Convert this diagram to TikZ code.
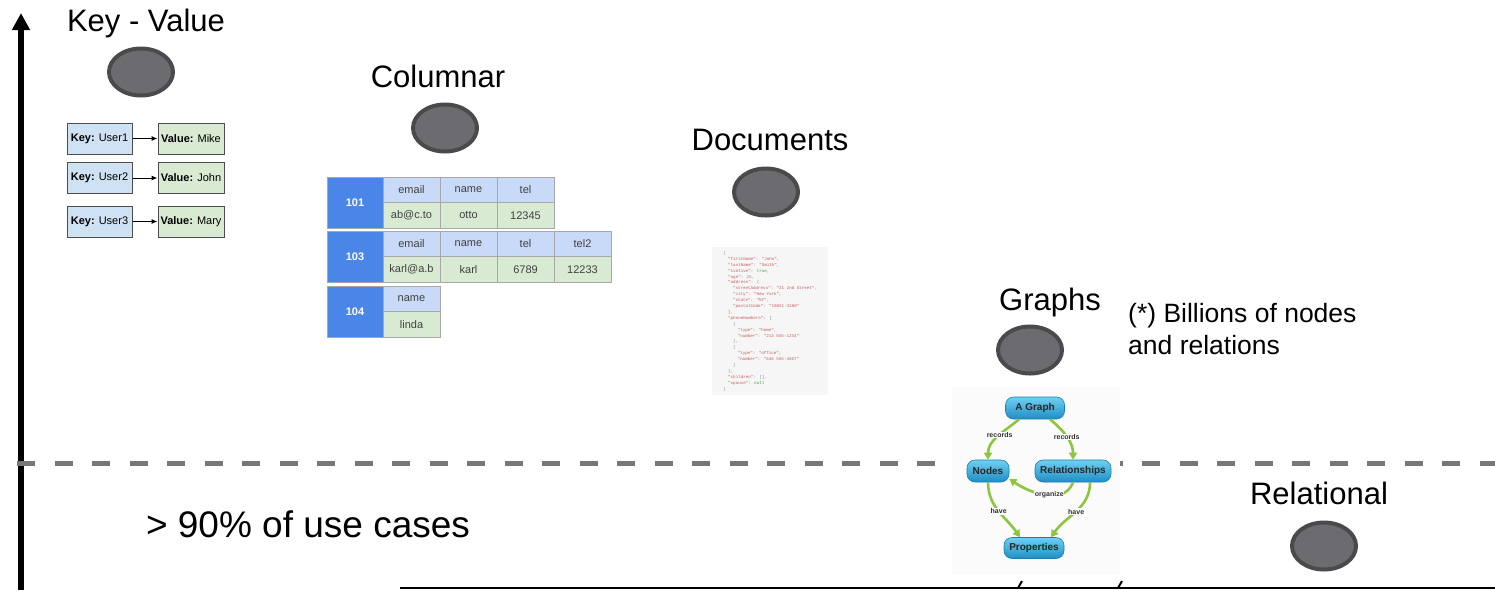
\documentclass[tikz,border=0pt]{standalone}
\usepackage{fontspec}
\setmainfont{Liberation Sans}
\newfontfamily\jsonfont{Liberation Mono}
\usetikzlibrary{positioning, shapes.geometric, arrows.meta}

\definecolor{dbgray}{HTML}{6C6C70}
\definecolor{dbedge}{HTML}{4A4A4C}
\definecolor{keyblue}{HTML}{CFE2F3}
\definecolor{valgreen}{HTML}{D9EAD3}
\definecolor{idblue}{HTML}{4A86E8}
\definecolor{headblue}{HTML}{C9DAF8}
\definecolor{cellline}{HTML}{A8A8A8}
\definecolor{jsonbg}{HTML}{F6F6F6}
\definecolor{jsonred}{HTML}{C85A5A}
\definecolor{jsongreen}{HTML}{3C9A3C}
\definecolor{jsongray}{HTML}{8A8A8A}
\definecolor{gtop}{HTML}{6FD0F2}
\definecolor{gbot}{HTML}{1F8EC4}
\definecolor{gedge}{HTML}{1A7FB0}
\definecolor{glink}{HTML}{8CC63F}
\definecolor{gback}{HTML}{FBFBFB}
\definecolor{dashgray}{HTML}{77777A}

\newcommand\jin{\hspace*{4.8pt}}
\newcommand\jk[1]{\textcolor{jsonred}{#1}}
\newcommand\jv[1]{\textcolor{jsongreen}{#1}}

\tikzset{
  big/.style={font=\fontsize{31}{36}\selectfont, anchor=base, inner sep=0},
  dbdot/.style={ellipse, draw=dbedge, fill=dbgray, line width=4pt, minimum width=64pt, minimum height=47pt, inner sep=0},
  kvbox/.style={draw=black!70, line width=1pt, minimum height=31pt, inner sep=0, font=\fontsize{11}{12}\selectfont},
  keybox/.style={kvbox, fill=keyblue, minimum width=65pt},
  valbox/.style={kvbox, fill=valgreen, minimum width=66pt},
  kvarrow/.style={-{Latex[length=6pt,width=5pt]}, line width=1pt},
  cell/.style={draw=cellline, line width=0.8pt, inner sep=0, outer sep=0, text=black!75, font=\fontsize{11}{12}\selectfont},
  idcell/.style={cell, fill=idblue, text=white, font=\bfseries\fontsize{11}{12}\selectfont, minimum width=56pt, minimum height=51pt},
  headcell/.style={cell, fill=headblue, minimum width=57pt, minimum height=25.5pt},
  datacell/.style={cell, fill=valgreen, minimum width=57pt, minimum height=25.5pt},
  gnode/.style={rounded corners=8pt, top color=gtop, bottom color=gbot, draw=gedge, line width=0.6pt, inner sep=0, minimum height=22pt, text=black!85, font=\bfseries\fontsize{10}{11}\selectfont},
  glink/.style={draw=glink, line width=2.6pt, -{Triangle[length=7pt,width=8pt]}},
  glabel/.style={fill=gback, inner sep=0.5pt, text=black!80, font=\bfseries\fontsize{7}{8}\selectfont}
}

\begin{document}
\begin{tikzpicture}[x=1pt, y=-1pt]
    \useasboundingbox (0,0) rectangle (1495,590);

    % Axes and separator
    \coordinate (axbot) at (21,590);
    \coordinate (axtop) at (21,13);
    \coordinate (sepl) at (0,463);
    \coordinate (sepr) at (1495,463);
    \coordinate (basel) at (400,588);
    \coordinate (baser) at (1495,588);
    \draw[line width=5.5pt, -{Triangle[length=17pt,width=17pt]}] (axbot) -- (axtop);
    \draw[dashgray, line width=5pt, dash pattern=on 18pt off 19.5pt, dash phase=20.5pt] (sepl) -- (sepr);
    \draw[line width=2pt] (basel) -- (baser);
    \coordinate (tickA) at (1018,588);
    \coordinate (tickB) at (1118,588);
    \draw[line width=2pt] (tickA) -- ++(4,-7);
    \draw[line width=2pt] (tickB) -- ++(4,-7);

    % Key - Value
    \node[big] (kvlabel) at (146,31) {Key - Value};
    \node[dbdot] (kvdot) at (141,72) {};
    \node[keybox] (k1) at (99.5,138.5) {\textbf{Key:} User1};
    \node[keybox] (k2) at (99.5,178) {\textbf{Key:} User2};
    \node[keybox] (k3) at (99.5,221.5) {\textbf{Key:} User3};
    \node[valbox, right=25pt of k1] (v1) {\textbf{Value:} Mike};
    \node[valbox, right=25pt of k2] (v2) {\textbf{Value:} John};
    \node[valbox, right=25pt of k3] (v3) {\textbf{Value:} Mary};
    \draw[kvarrow] (k1) -- (v1);
    \draw[kvarrow] (k2) -- (v2);
    \draw[kvarrow] (k3) -- (v3);

    % Columnar
    \node[big] (collabel) at (438,87) {Columnar};
    \node[dbdot] (coldot) at (445,128) {};
    \node[idcell, anchor=north west] (c101) at (327,177) {101};
    \node[headcell, anchor=north west] (c101a) at (c101.north east) {email};
    \node[headcell, right=0pt of c101a] (c101b) {name};
    \node[headcell, right=0pt of c101b] (c101c) {tel};
    \node[datacell, below=0pt of c101a] (c101d) {ab@c.to};
    \node[datacell, below=0pt of c101b] (c101e) {otto};
    \node[datacell, below=0pt of c101c] (c101f) {12345};
    \node[idcell, below=3pt of c101] (c103) {103};
    \node[headcell, anchor=north west] (c103a) at (c103.north east) {email};
    \node[headcell, right=0pt of c103a] (c103b) {name};
    \node[headcell, right=0pt of c103b] (c103c) {tel};
    \node[headcell, right=0pt of c103c] (c103d) {tel2};
    \node[datacell, below=0pt of c103a] (c103e) {karl@a.b};
    \node[datacell, below=0pt of c103b] (c103f) {karl};
    \node[datacell, below=0pt of c103c] (c103g) {6789};
    \node[datacell, below=0pt of c103d] (c103h) {12233};
    \node[idcell, below=4pt of c103] (c104) {104};
    \node[headcell, anchor=north west] (c104a) at (c104.north east) {name};
    \node[datacell, below=0pt of c104a] (c104b) {linda};

    % Documents
    \node[big] (doclabel) at (770,150) {Documents};
    \node[dbdot] (docdot) at (766,192) {};
    \node[fill=jsonbg, anchor=north west, minimum width=116pt, minimum height=148pt, inner sep=0, align=left, text=jsongray,
          font=\jsonfont\fontsize{4.2}{5.9}\selectfont] (json) at (712,247) {%
      \{\\
      \jin\jk{"firstName"}: \jk{"John"},\\
      \jin\jk{"lastName"}: \jk{"Smith"},\\
      \jin\jk{"isAlive"}: \jv{true},\\
      \jin\jk{"age"}: 25,\\
      \jin\jk{"address"}: \{\\
      \jin\jin\jk{"streetAddress"}: \jk{"21 2nd Street"},\\
      \jin\jin\jk{"city"}: \jk{"New York"},\\
      \jin\jin\jk{"state"}: \jk{"NY"},\\
      \jin\jin\jk{"postalCode"}: \jk{"10021-3100"}\\
      \jin\},\\
      \jin\jk{"phoneNumbers"}: [\\
      \jin\jin\{\\
      \jin\jin\jin\jk{"type"}: \jk{"home"},\\
      \jin\jin\jin\jk{"number"}: \jk{"212 555-1234"}\\
      \jin\jin\},\\
      \jin\jin\{\\
      \jin\jin\jin\jk{"type"}: \jk{"office"},\\
      \jin\jin\jin\jk{"number"}: \jk{"646 555-4567"}\\
      \jin\jin\}\\
      \jin],\\
      \jin\jk{"children"}: [],\\
      \jin\jk{"spouse"}: \jv{null}\\
      \}};

    % Graphs
    \node[big] (graphlabel) at (1050,310) {Graphs};
    \node[dbdot] (graphdot) at (1030,350) {};
    \node[anchor=north west, inner sep=0, align=left, font=\fontsize{26.5}{32}\selectfont] (billions) at (1128,303) {(*) Billions of nodes\\and relations};
    \node[fill=gback, minimum width=168pt, minimum height=188pt, inner sep=0] (gback) at (1036,481) {};
    \node[gnode, minimum width=59pt] (agraph) at (1035,408) {A Graph};
    \node[gnode, minimum width=42pt] (gnodes) at (988,471) {Nodes};
    \node[gnode, minimum width=76pt] (rel) at (1073,471) {Relationships};
    \node[gnode, minimum width=60pt, minimum height=21pt] (props) at (1034,548) {Properties};
    \draw[glink] ([xshift=-16pt]agraph.south) to[out=-140, in=90] node[glabel, pos=0.45] {records} (gnodes.north);
    \draw[glink] ([xshift=15pt]agraph.south) to[out=-40, in=90] node[glabel, pos=0.5] {records} (rel.north);
    \draw[glink] (rel.south) to[out=-110, in=-35] node[glabel, pos=0.45] {organize} (gnodes.-20);
    \draw[glink] (gnodes.south) to[out=-90, in=125] node[glabel, pos=0.5] {have} ([xshift=-14pt]props.north);
    \draw[glink] ([xshift=17pt]rel.south) to[out=-90, in=55] node[glabel, pos=0.5] {have} ([xshift=17pt]props.north);

    % Relational
    \node[big] (rellabel) at (1319,504) {Relational};
    \node[dbdot] (reldot) at (1324,546) {};

    % Share
    \node[big, font=\fontsize{37}{42}\selectfont] (share) at (308,537) {> 90\% of use cases};
\end{tikzpicture}
\end{document}
